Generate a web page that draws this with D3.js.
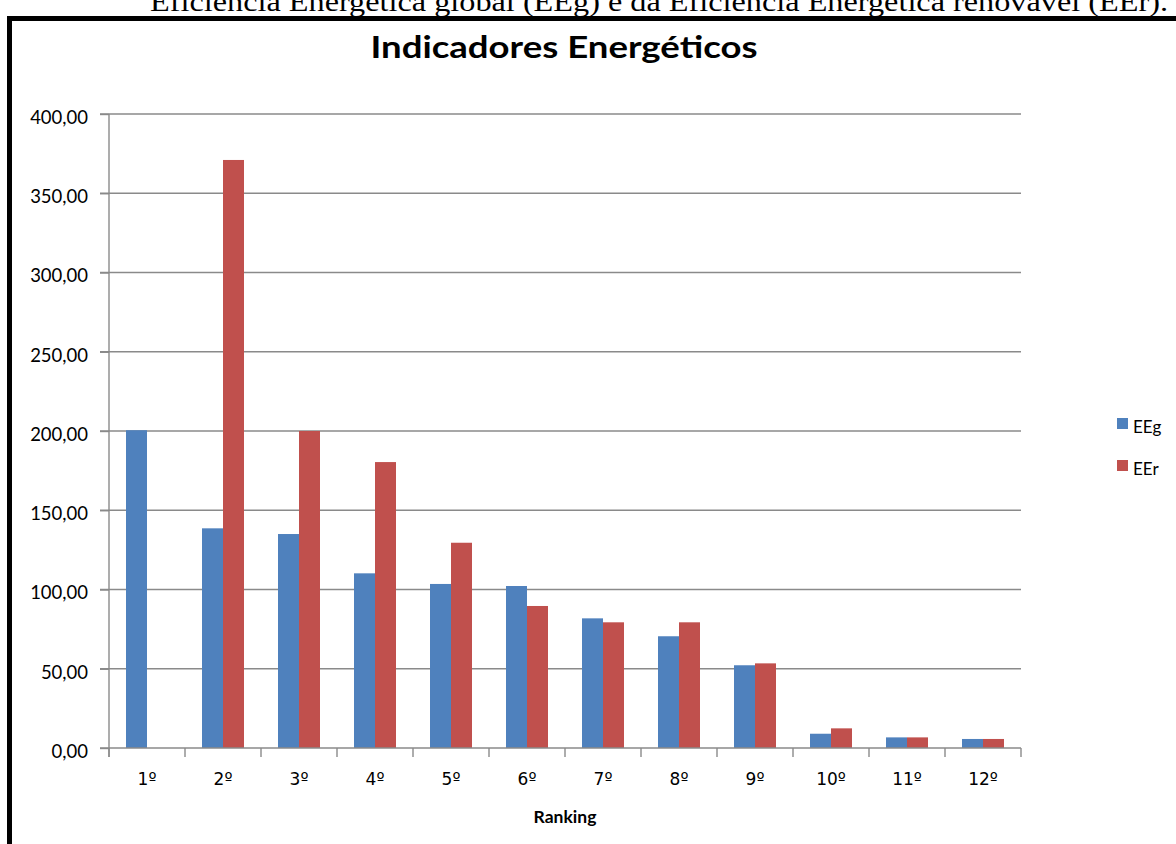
<!DOCTYPE html>
<html>
<head>
<meta charset="utf-8">
<script src="https://cdn.jsdelivr.net/npm/d3@7"></script>
<style>
  html, body { margin: 0; padding: 0; background: #fff; }
  svg { display: block; }
</style>
</head>
<body>
<svg id="chart" width="1176" height="844"></svg>
<script>
const categories = ["1º","2º","3º","4º","5º","6º","7º","8º","9º","10º","11º","12º"];
const seriesNames = ["EEg","EEr"];
const EEg = [200.5, 138.6, 135.0, 110.2, 103.5, 102.2, 81.8, 70.5, 52.2, 9.0, 6.7, 5.7];
const EEr = [0, 371.0, 200.0, 180.4, 129.5, 89.6, 79.3, 79.3, 53.4, 12.4, 6.7, 5.7];
const yTicks = [0, 50, 100, 150, 200, 250, 300, 350, 400];
const colors = ["#4F81BD", "#C0504D"];
const chartTitle = "Indicadores Energéticos";
const xTitle = "Ranking";
const caption = "Eficiência Energética global (EEg) e da Eficiência Energética renovável (EEr).";

const svg = d3.select("#chart");
const plot = {left: 109, right: 1021, top: 114, bottom: 748};

const x = d3.scaleBand().domain(categories).range([plot.left, plot.right]).paddingInner(0).paddingOuter(0);
const barW = 21;
const x1 = d3.scaleBand().domain(seriesNames).range([0, barW * 2]);
const y = d3.scaleLinear().domain([0, 400]).range([plot.bottom, plot.top]);

// caption (cut at the top, as in the source image)
svg.append("text")
  .attr("x", 150).attr("y", 11)
  .attr("font-family", "'Liberation Serif', 'Times New Roman', serif")
  .attr("font-size", 28)
  .attr("textLength", 1018).attr("lengthAdjust", "spacingAndGlyphs")
  .attr("fill", "#000")
  .text(caption);

// chart frame (left and top)
svg.append("rect").attr("x", 7).attr("y", 16).attr("width", 1200).attr("height", 5).attr("fill", "#000");
svg.append("rect").attr("x", 7).attr("y", 16).attr("width", 5).attr("height", 900).attr("fill", "#000");

// title
svg.append("text")
  .attr("x", (plot.left + plot.right) / 2 - 1).attr("y", 58)
  .attr("text-anchor", "middle")
  .attr("font-family", "Lato, 'Open Sans', sans-serif")
  .attr("font-weight", "bold")
  .attr("font-size", 31)
  .attr("textLength", 387).attr("lengthAdjust", "spacingAndGlyphs")
  .attr("fill", "#000")
  .text(chartTitle);

// gridlines
const gridColor = "#8a8a8a";
svg.append("g").selectAll("line").data(yTicks.filter(d => d > 0)).join("line")
  .attr("x1", plot.left - 9).attr("x2", plot.right)
  .attr("y1", d => y(d)).attr("y2", d => y(d))
  .attr("stroke", gridColor).attr("stroke-width", 1.4);

// y axis
const yAxis = d3.axisLeft(y).tickValues(yTicks).tickSize(9).tickPadding(12)
  .tickFormat(d => d3.format(".2f")(d).replace(".", ","));
const gy = svg.append("g").attr("transform", `translate(${plot.left},0)`).call(yAxis);
gy.select(".domain").attr("stroke", gridColor).attr("stroke-width", 1.4)
  .attr("d", `M0,${plot.top}V${plot.bottom + 9}`);
gy.selectAll(".tick line").attr("stroke", gridColor).attr("stroke-width", 1.4);
gy.selectAll(".tick text")
  .attr("font-family", "Lato, 'Open Sans', sans-serif")
  .attr("font-size", 18.5).attr("fill", "#000")
  .attr("dy", "0.5em");

// bars
const data = categories.map((c, i) => ({cat: c, vals: [EEg[i], EEr[i]]}));
const groups = svg.append("g").selectAll("g").data(data).join("g")
  .attr("transform", d => `translate(${x(d.cat) + (x.bandwidth() - barW * 2) / 2},0)`);
groups.selectAll("rect").data(d => d.vals.map((v, j) => ({s: seriesNames[j], v, j}))).join("rect")
  .attr("x", d => x1(d.s))
  .attr("width", x1.bandwidth())
  .attr("y", d => y(d.v))
  .attr("height", d => plot.bottom - y(d.v))
  .attr("fill", d => colors[d.j]);

// x axis
const xAxis = d3.axisBottom(x).tickSize(0).tickPadding(25);
const gx = svg.append("g").attr("transform", `translate(0,${plot.bottom})`).call(xAxis);
gx.select(".domain").attr("stroke", gridColor).attr("stroke-width", 1.4)
  .attr("d", `M${plot.left - 9},0H${plot.right}`);
gx.selectAll(".tick text")
  .attr("font-family", "'DejaVu Sans', Lato, sans-serif")
  .attr("font-size", 17).attr("fill", "#000");
// category boundary ticks
const bounds = categories.map(c => x(c)).concat([plot.right]);
svg.append("g").selectAll("line").data(bounds).join("line")
  .attr("x1", d => d).attr("x2", d => d)
  .attr("y1", plot.bottom).attr("y2", plot.bottom + 9)
  .attr("stroke", gridColor).attr("stroke-width", 1.4);

// x title
svg.append("text")
  .attr("x", (plot.left + plot.right) / 2).attr("y", 823)
  .attr("text-anchor", "middle")
  .attr("font-family", "Lato, 'Open Sans', sans-serif")
  .attr("font-weight", "bold")
  .attr("font-size", 17.5)
  .attr("fill", "#000")
  .text(xTitle);

// legend
const legend = svg.append("g").selectAll("g").data(seriesNames).join("g")
  .attr("transform", (d, i) => `translate(1117,${418 + i * 42})`);
legend.append("rect").attr("width", 11).attr("height", 11).attr("fill", (d, i) => colors[i]);
legend.append("text").attr("x", 16).attr("y", 15)
  .attr("font-family", "Lato, 'Open Sans', sans-serif")
  .attr("font-size", 17).attr("fill", "#000")
  .text(d => d);
</script>
</body>
</html>
